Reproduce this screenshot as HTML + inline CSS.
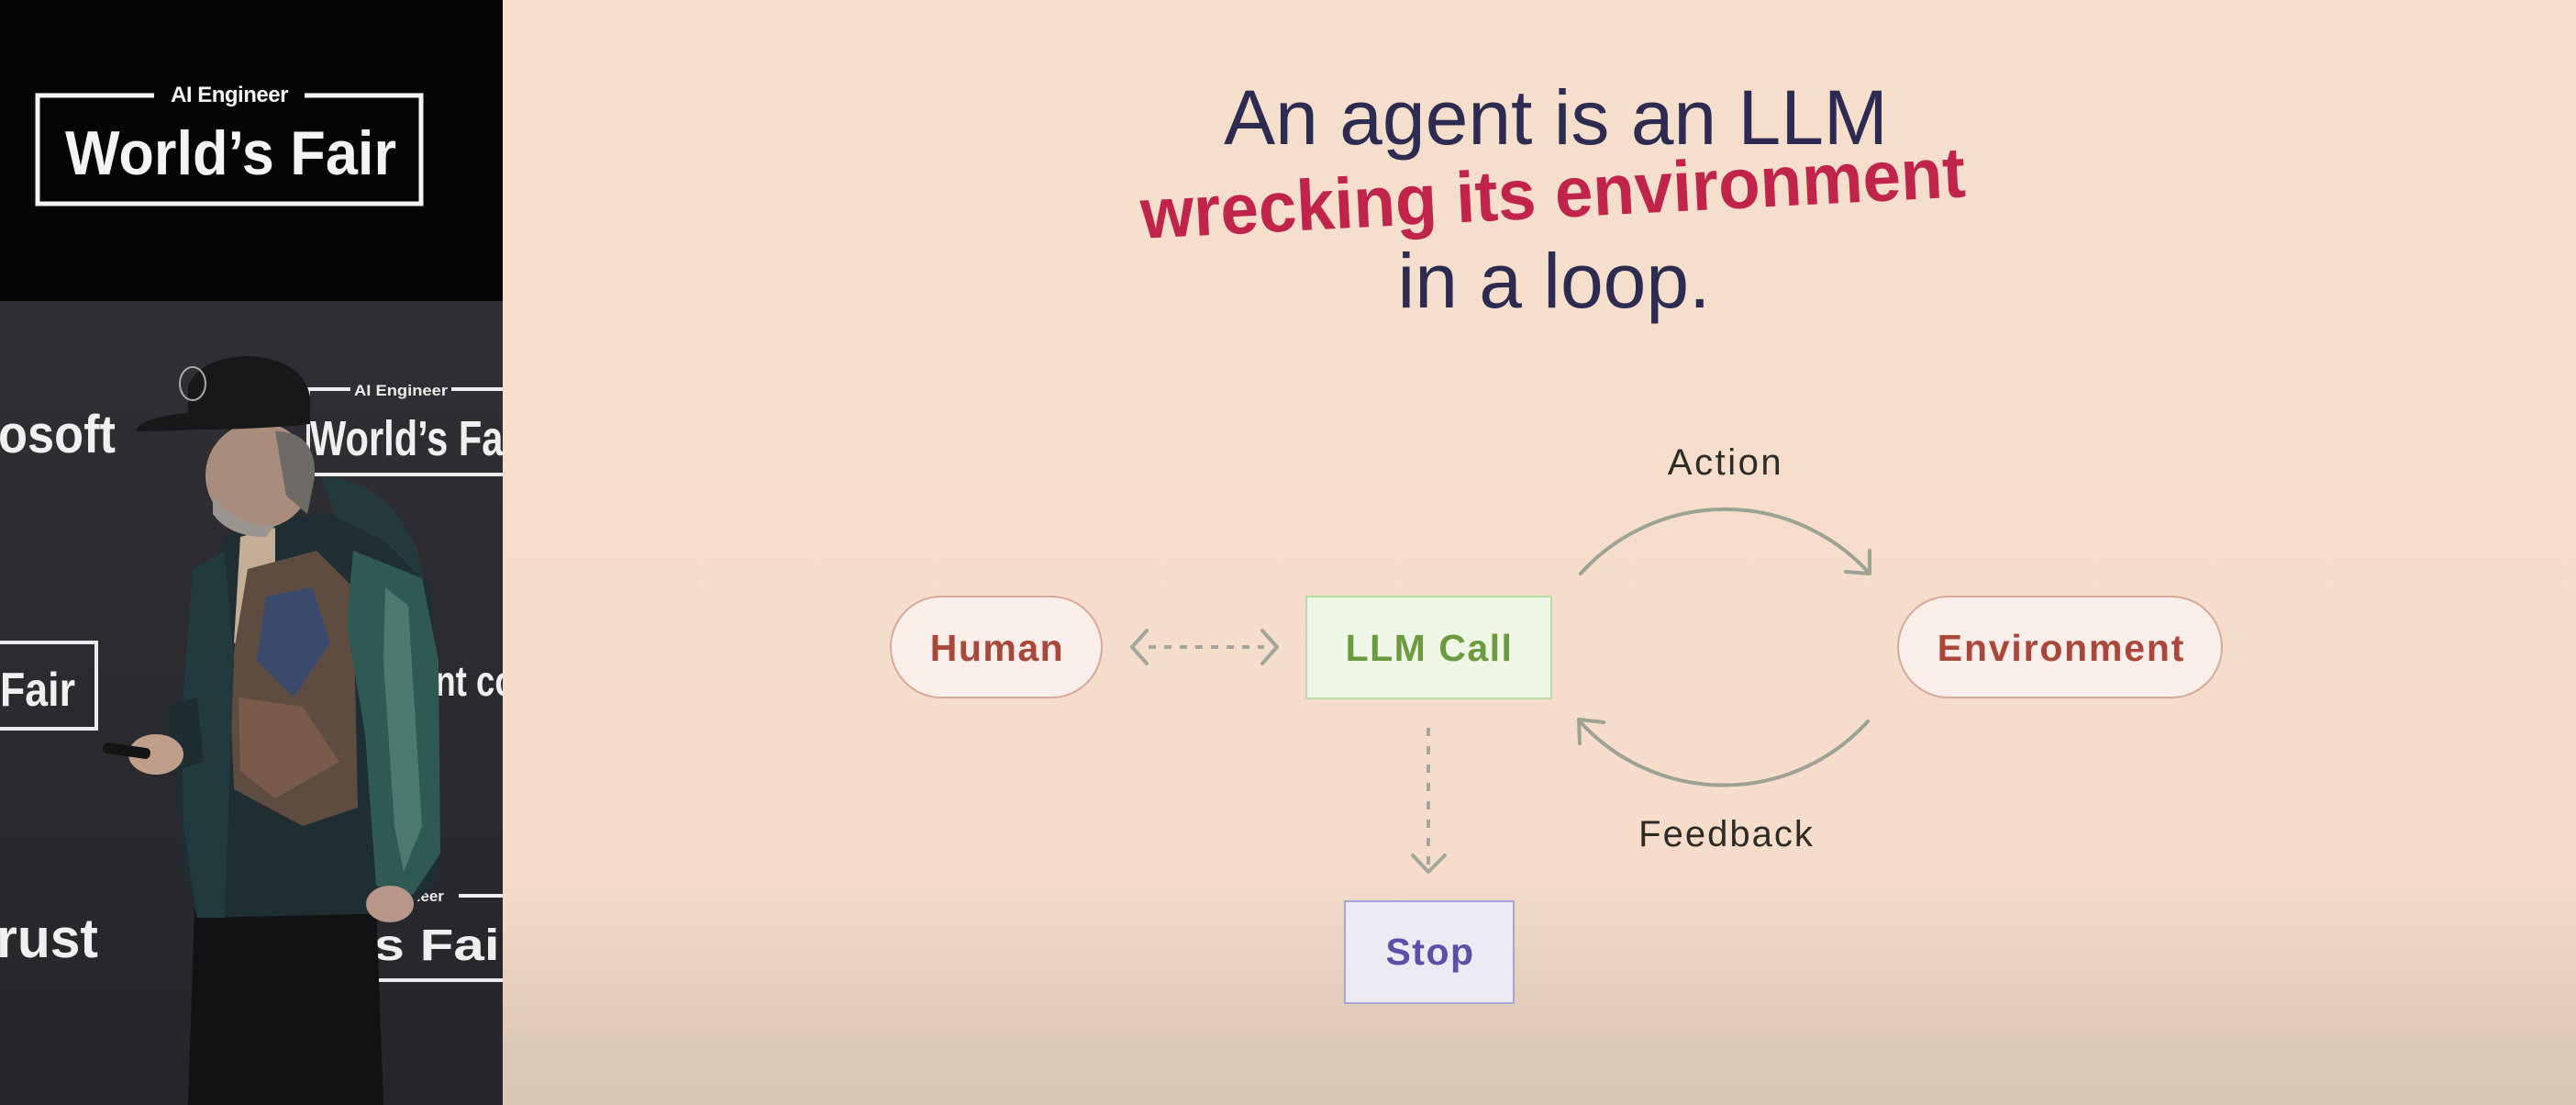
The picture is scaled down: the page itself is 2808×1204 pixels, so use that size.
<!DOCTYPE html>
<html>
<head>
<meta charset="utf-8">
<style>
  html, body { margin:0; padding:0; }
  body { width:2808px; height:1204px; overflow:hidden; background:#f6dfcd; }
  svg { display:block; }
  text { font-family: "Liberation Sans", "DejaVu Sans", sans-serif; }
</style>
</head>
<body>
<svg width="2808" height="1204" viewBox="0 0 2808 1204" xmlns="http://www.w3.org/2000/svg">
  <defs>
    <linearGradient id="slideBg" x1="0" y1="0" x2="0" y2="1">
      <stop offset="0" stop-color="#f6dfcd"/>
      <stop offset="0.79" stop-color="#f5dccb"/>
      <stop offset="0.87" stop-color="#e9d3c0"/>
      <stop offset="0.95" stop-color="#dcc8b6"/>
      <stop offset="1" stop-color="#d9c6b5"/>
    </linearGradient>
    <linearGradient id="stageBg" x1="0" y1="0" x2="0" y2="1">
      <stop offset="0" stop-color="#303034"/>
      <stop offset="1" stop-color="#26262a"/>
    </linearGradient>
    <clipPath id="leftClip"><rect x="0" y="0" width="548" height="1204"/></clipPath>
  </defs>

  <!-- Slide background -->
  <rect x="548" y="0" width="2260" height="1204" fill="url(#slideBg)"/>

  <!-- ===== Left panel ===== -->
  <g clip-path="url(#leftClip)">
    <rect x="0" y="0" width="548" height="328" fill="#050505"/>
    <!-- logo box -->
    <g fill="none" stroke="#f4f4f2" stroke-width="5">
      <polyline points="168,104 41,104 41,222 459,222 459,104 332,104"/>
    </g>
    <text x="250" y="111" text-anchor="middle" font-size="24" font-weight="bold" fill="#f4f4f2" letter-spacing="-0.5">AI Engineer</text>
    <text x="71" y="190" font-size="68" font-weight="bold" fill="#f4f4f2" textLength="361" lengthAdjust="spacingAndGlyphs">World’s Fair</text>

    <!-- stage -->
    <rect x="0" y="328" width="548" height="876" fill="url(#stageBg)"/>

    <!-- background logos -->
    <text x="-2" y="493" font-size="58" font-weight="bold" fill="#f0f0f0" textLength="128" lengthAdjust="spacingAndGlyphs">osoft</text>

    <g stroke="#ececec" stroke-width="4" fill="none">
      <line x1="334" y1="424" x2="382" y2="424"/>
      <line x1="492" y1="424" x2="548" y2="424"/>
      <line x1="336" y1="424" x2="336" y2="517"/>
      <line x1="336" y1="517" x2="548" y2="517"/>
    </g>
    <text x="386" y="431" font-size="17" font-weight="bold" fill="#ececec" textLength="102" lengthAdjust="spacingAndGlyphs">AI Engineer</text>
    <text x="338" y="496" font-size="54" font-weight="bold" fill="#f0f0f0" textLength="222" lengthAdjust="spacingAndGlyphs">World’s Fai</text>

    <rect x="-5" y="700" width="110" height="94" fill="none" stroke="#ececec" stroke-width="4"/>
    <text x="0" y="769" font-size="52" font-weight="bold" fill="#f0f0f0" textLength="82" lengthAdjust="spacingAndGlyphs">Fair</text>

    <text x="454" y="758" font-size="46" font-weight="bold" fill="#f0f0f0" textLength="130" lengthAdjust="spacingAndGlyphs">ent con</text>

    <text x="-4" y="1043" font-size="60" font-weight="bold" fill="#f0f0f0" textLength="111" lengthAdjust="spacingAndGlyphs">rust</text>

    <g stroke="#ececec" stroke-width="4" fill="none">
      <line x1="500" y1="976" x2="548" y2="976"/>
      <line x1="398" y1="1068" x2="548" y2="1068"/>
    </g>
    <text x="448" y="982" font-size="17" font-weight="bold" fill="#ececec">neer</text>
    <text x="393" y="1046" font-size="48" font-weight="bold" fill="#f0f0f0" textLength="175" lengthAdjust="spacingAndGlyphs">’s Fair</text>

    <!-- speaker -->
    <!-- pants -->
    <path d="M212,990 L410,985 L418,1204 L205,1204 Z" fill="#121214"/>
    <!-- hood behind -->
    <path d="M350,520 Q420,520 455,600 L470,660 L430,680 L380,600 Z" fill="#24393c"/>
    <!-- jacket body -->
    <path d="M245,585 Q300,560 360,560 L420,590 L470,640 L480,870 L478,960 L440,995 L215,1000 L198,940 L190,820 L205,700 Z" fill="#1f2e32"/>
    <!-- inner shirt -->
    <path d="M262,585 L300,575 L300,640 L270,720 L255,700 Z" fill="#c4ae96"/>
    <!-- embroidery -->
    <path d="M270,620 L345,600 L385,640 L390,880 L330,900 L255,860 L250,740 Z" fill="#5e4c40"/>
    <path d="M290,650 L340,640 L360,700 L320,760 L280,720 Z" fill="#3a4a6e"/>
    <path d="M260,760 L330,770 L370,830 L300,870 L262,840 Z" fill="#7a5a4a"/>
    <!-- right sleeve satin -->
    <path d="M385,600 L460,630 L478,720 L480,930 L450,975 L410,965 L398,800 L378,680 Z" fill="#2f5a54"/>
    <path d="M420,640 L445,660 L460,900 L440,950 L430,900 L418,720 Z" fill="#4a7a70"/>
    <!-- left sleeve / dark front -->
    <path d="M210,620 L245,600 L255,720 L245,1000 L215,1000 L200,900 L198,780 Z" fill="#22393d"/>
    <!-- left arm & hand -->
    <path d="M180,770 L215,760 L222,830 L190,840 Z" fill="#1e2e30"/>
    <ellipse cx="170" cy="822" rx="30" ry="22" fill="#c09e8c"/>
    <rect x="112" y="812" width="52" height="12" rx="5" fill="#141414" transform="rotate(8 138 818)"/>
    <!-- right hand -->
    <ellipse cx="425" cy="985" rx="26" ry="20" fill="#b8978a"/>
    <!-- head -->
    <ellipse cx="282" cy="518" rx="58" ry="58" fill="#a98c7c"/>
    <path d="M300,470 Q345,470 343,520 L335,560 L312,540 Z" fill="#6e6a66"/>
    <path d="M232,540 Q260,575 300,572 L290,585 Q250,585 232,560 Z" fill="#9a9590"/>
    <!-- hat -->
    <path d="M148,470 Q152,455 205,450 L205,420 Q220,389 272,388 Q330,392 338,432 L338,462 Q280,468 215,468 Q175,470 148,470 Z" fill="#18181a"/>
    <ellipse cx="210" cy="418" rx="14" ry="18" fill="none" stroke="#aaa" stroke-width="2"/>
  </g>

  <!-- ===== Slide ===== -->
  <!-- Title -->
  <text x="1696" y="157" text-anchor="middle" font-size="84" fill="#2d2b4f">An agent is an LLM</text>
  <text x="1694" y="237" text-anchor="middle" font-size="78" font-weight="bold" fill="#c1244a" textLength="900" lengthAdjust="spacingAndGlyphs" transform="rotate(-2.9 1694 237)">wrecking its environment</text>
  <text x="1694" y="335" text-anchor="middle" font-size="84" fill="#2d2b4f">in a loop.</text>

  <!-- Connectors -->
  <g fill="none" stroke="#a2a79b" stroke-width="4" stroke-linecap="round" stroke-linejoin="round">
    <!-- Human <-> LLM -->
    <line x1="1252" y1="705" x2="1378" y2="705" stroke-dasharray="8 9" stroke-linecap="butt"/>
    <polyline points="1250,687 1234,705 1250,723"/>
    <polyline points="1376,687 1392,705 1376,723"/>
    <!-- LLM -> Stop -->
    <line x1="1557" y1="793" x2="1557" y2="946" stroke-dasharray="9 11" stroke-linecap="butt"/>
    <polyline points="1540,932 1557,950 1575,932"/>
  </g>
  <g fill="none" stroke="#9ca395" stroke-width="4" stroke-linecap="round" stroke-linejoin="round">
    <!-- Action arc -->
    <path d="M1723,625 A212,212 0 0 1 2038,625"/>
    <polyline points="2012,623 2038,625 2038,600"/>
    <!-- Feedback arc -->
    <path d="M2036,786 A212,212 0 0 1 1722,786"/>
    <polyline points="1748,787 1721,784 1722,810"/>
  </g>

  <text x="1881" y="517" text-anchor="middle" font-size="40" fill="#2e2b27" letter-spacing="2.5">Action</text>
  <text x="1882" y="922" text-anchor="middle" font-size="40" fill="#2e2b27" letter-spacing="2">Feedback</text>

  <!-- Nodes -->
  <rect x="971" y="650" width="230" height="110" rx="55" ry="55" fill="#f9eeea" stroke="#d8a898" stroke-width="2"/>
  <text x="1087" y="720" text-anchor="middle" font-size="41" font-weight="bold" fill="#a9473a" letter-spacing="1.5">Human</text>

  <rect x="1424" y="650" width="267" height="111" fill="#eef6e5" stroke="#b9dca4" stroke-width="2"/>
  <text x="1558" y="720" text-anchor="middle" font-size="41" font-weight="bold" fill="#6b9b3e" letter-spacing="1.5">LLM Call</text>

  <rect x="2069" y="650" width="353" height="110" rx="55" ry="55" fill="#f9eeea" stroke="#d8a898" stroke-width="2"/>
  <text x="2247" y="720" text-anchor="middle" font-size="41" font-weight="bold" fill="#a9473a" letter-spacing="1.8">Environment</text>

  <rect x="1466" y="982" width="184" height="111" fill="#ecebf3" stroke="#aaa2dc" stroke-width="2"/>
  <text x="1559" y="1051" text-anchor="middle" font-size="41" font-weight="bold" fill="#5a50a8" letter-spacing="1.5">Stop</text>
</svg>
</body>
</html>
